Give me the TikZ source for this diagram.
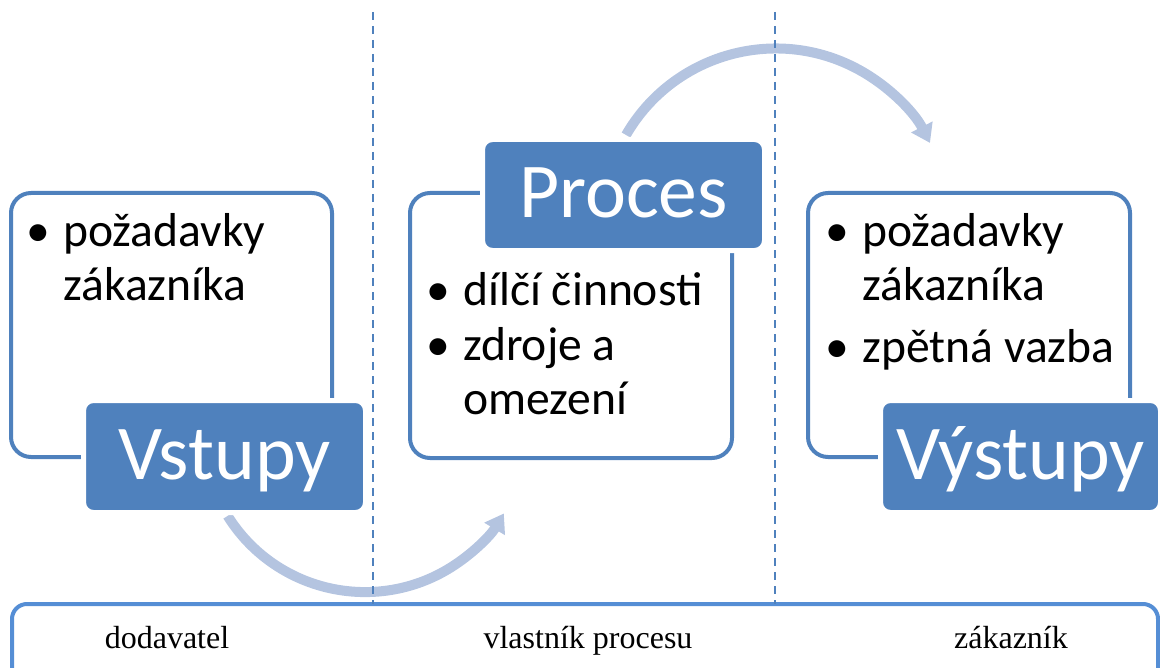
\documentclass[tikz,border=0pt]{standalone}
\usepackage{fontspec}
\setmainfont{Carlito}
\newfontfamily\rolefont{Liberation Serif}
\usetikzlibrary{arrows.meta}
\definecolor{accent}{HTML}{4F81BD}
\definecolor{rolebar}{HTML}{558ED5}
\definecolor{flow}{RGB}{180,196,224}

\newcommand{\bulletline}[1]{\makebox[18.5pt][l]{•}\parbox[t]{150pt}{#1}}

\begin{document}
\begin{tikzpicture}[x=0.5pt,y=-0.5pt,
  frame/.style={draw=accent, line width=2pt, fill=white, rounded corners=10pt,
    inner sep=0pt},
  titlebox/.style={fill=accent, draw=white, line width=2.5pt, rounded corners=5pt,
    inner sep=0pt, text=white, font=\fontsize{38.8pt}{46pt}\selectfont,
    text height=29.5pt, text depth=7pt},
  items/.style={anchor=base west, inner sep=0pt, font=\fontsize{23.8pt}{27pt}\selectfont},
  role/.style={anchor=base, inner sep=0pt, font=\rolefont\fontsize{16pt}{19pt}\selectfont},
  flowarrow/.style={draw=flow, line width=5pt, -{Triangle[width=11.5pt,length=9pt]}},
  divider/.style={draw=accent, line width=1.1pt, dash pattern=on 4pt off 3pt}]

\useasboundingbox (0,0) rectangle (1160,668);
\clip (0,0) rectangle (1160,668);

% roles bar along the bottom
\node[draw=rolebar, line width=2pt, rounded corners=7.5pt, minimum width=573pt,
  minimum height=48pt, inner sep=0pt] (roles) at (585,652) {};
\node[role] (supplier) at (167,648) {dodavatel};
\node[role] (owner) at (588,648) {vlastník procesu};
\node[role] (customer) at (1011,648) {zákazník};

% curved flow arrows
\coordinate (inArc) at (227.6,515.9);
\coordinate (outArc) at (626.0,135.0);
\draw[flowarrow] (inArc) arc[start angle=148, end angle=31, radius=162];
\draw[flowarrow] (outArc) arc[start angle=210, end angle=333, radius=173];

% content frames
\node[frame, minimum width=160.5pt, minimum height=132pt] (inFrame) at (171.5,325) {};
\node[frame, minimum width=161pt, minimum height=132.5pt] (procFrame) at (571,325.5) {};
\node[frame, minimum width=161pt, minimum height=132pt] (outFrame) at (969,325) {};

% title boxes
\node[titlebox, minimum width=141pt, minimum height=56pt] (inputs) at (224.5,456.5) {Vstupy};
\node[titlebox, minimum width=141pt, minimum height=55.5pt] (process) at (623.5,195) {Proces};
\node[titlebox, minimum width=140pt, minimum height=56pt] (outputs) at (1020.5,456.5) {Výstupy};

% bullet lists
\node[items] (inA) at (26,246) {\bulletline{požadavky\\zákazníka}};
\node[items] (procA) at (426,305) {\bulletline{dílčí činnosti}};
\node[items] (procB) at (426,360) {\bulletline{zdroje a\\omezení}};
\node[items] (outA) at (825,246) {\bulletline{požadavky\\zákazníka}};
\node[items] (outB) at (825,362) {\bulletline{zpětná vazba}};

% dashed section dividers
\coordinate (divAtop) at (373,12);
\coordinate (divAbot) at (373,604);
\coordinate (divBtop) at (775,12);
\coordinate (divBbot) at (775,604);
\draw[divider] (divAtop) -- (divAbot);
\draw[divider] (divBtop) -- (divBbot);
\end{tikzpicture}
\end{document}
